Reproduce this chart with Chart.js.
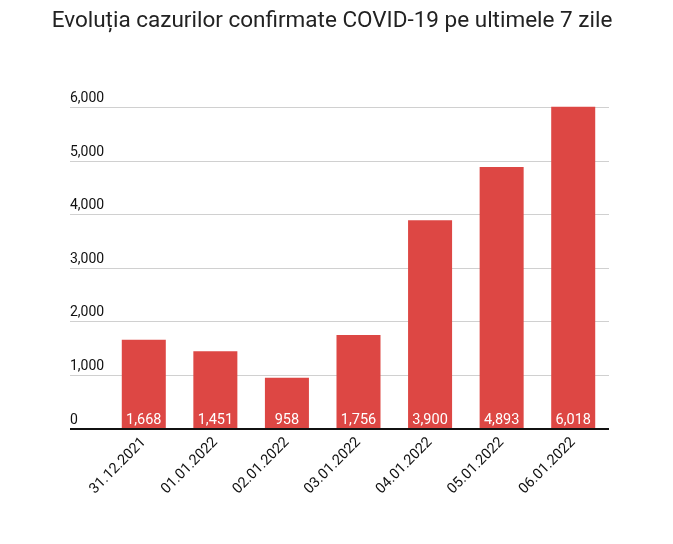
<!DOCTYPE html>
<html lang="ro">
<head>
    <meta charset="UTF-8">
    <title>Evoluția cazurilor confirmate COVID-19</title>
    <script src="https://cdn.jsdelivr.net/npm/chart.js"></script>
    <style>
        html, body {
            margin: 0;
            padding: 0;
            background: #fff;
        }
        .chart-container {
            width: 673px;
            height: 544px;
        }
    </style>
</head>
<body>
    <div class="chart-container">
        <canvas id="covidChart"></canvas>
    </div>

    <script>
        const title = 'Evoluția cazurilor confirmate COVID-19 pe ultimele 7 zile';
        const dates = ['31.12.2021', '01.01.2022', '02.01.2022', '03.01.2022', '04.01.2022', '05.01.2022', '06.01.2022'];
        const cases = [1668, 1451, 958, 1756, 3900, 4893, 6018];
        const yTicks = [0, 1000, 2000, 3000, 4000, 5000, 6000];

        const fmt = v => v.toLocaleString('en-US');

        // white value labels at the foot of each bar + the title
        // (title drawn by hand so it can be centred on the canvas, not the padded area)
        const extras = {
            id: 'extras',
            afterDatasetsDraw(chart) {
                const ctx = chart.ctx;
                const meta = chart.getDatasetMeta(0);
                const base = chart.scales.y.getPixelForValue(0);
                ctx.save();
                ctx.fillStyle = '#ffffff';
                ctx.font = '14.5px Roboto';
                ctx.textAlign = 'center';
                ctx.textBaseline = 'middle';
                meta.data.forEach((bar, i) => {
                    ctx.fillText(fmt(cases[i]), bar.x, base - 9);
                });

                ctx.fillStyle = '#222';
                ctx.font = '22.5px Roboto';
                ctx.fillText(title, 332, 21);
                ctx.restore();
            }
        };

        const ctx = document.getElementById('covidChart').getContext('2d');
        new Chart(ctx, {
            type: 'bar',
            data: {
                labels: dates,
                datasets: [{
                    data: cases,
                    backgroundColor: '#dd4744',
                    borderWidth: 0,
                    categoryPercentage: 1,
                    barPercentage: 0.615
                }]
            },
            options: {
                responsive: true,
                maintainAspectRatio: false,
                animation: false,
                layout: {
                    padding: { top: 97, left: 70, right: 64, bottom: 0 }
                },
                scales: {
                    x: {
                        grid: { display: false },
                        border: { display: false },
                        afterFit(scale) { scale.height = 115; },
                        ticks: {
                            minRotation: 45,
                            maxRotation: 45,
                            color: '#111',
                            padding: -3,
                            font: { family: 'Roboto', size: 14.5 }
                        }
                    },
                    y: {
                        min: 0,
                        max: 6200,
                        border: { display: false },
                        afterFit(scale) { scale.width = 38; },
                        afterBuildTicks(scale) {
                            scale.ticks = yTicks.map(v => ({ value: v }));
                        },
                        grid: {
                            drawTicks: true,
                            tickLength: 38,
                            color: c => c.tick && c.tick.value === 0 ? '#111' : '#d0d0d0',
                            lineWidth: c => c.tick && c.tick.value === 0 ? 2 : 1
                        },
                        ticks: {
                            crossAlign: 'far',
                            labelOffset: -9,
                            padding: 0,
                            color: '#111',
                            font: { family: 'Roboto', size: 14 },
                            callback: v => fmt(v)
                        }
                    }
                },
                plugins: {
                    legend: { display: false },
                    tooltip: { enabled: false },
                    title: { display: false }
                }
            },
            plugins: [extras]
        });
    </script>
</body>
</html>
